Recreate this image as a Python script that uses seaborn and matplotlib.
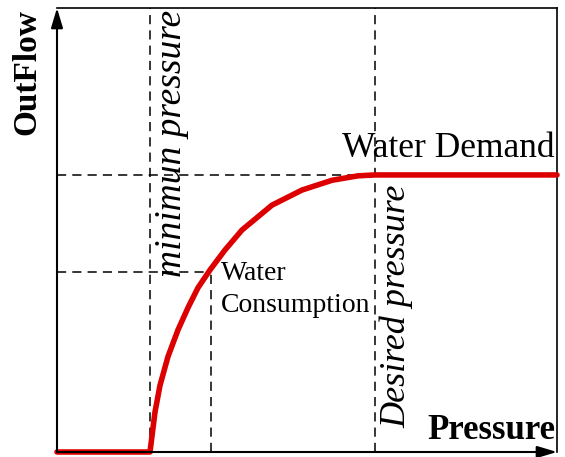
"""Pressure-driven outflow sketch (water demand vs. pressure)."""

import matplotlib
matplotlib.use("Agg")
import matplotlib.pyplot as plt
import pandas as pd
import seaborn as sns

# Curve (pressure, outflow) in 0-100 units
pressure = [0, 18.6, 19.6, 20.6, 22.2, 24.2, 26.2, 28.2, 30.6,
            33.6, 37.0, 43.0, 49.0, 55.0, 60.2, 63.6, 100]
outflow = [0, 0, 9.0, 15.0, 21.5, 27.5, 32.5, 37.0, 41.0,
           45.5, 50.0, 55.6, 59.0, 61.2, 62.2, 62.4, 62.4]

# Reference levels
p_min = 18.6
p_use = 30.8
p_des = 63.6
q_use = 40.5
q_des = 62.4

sns.set_style("white")
plt.rcParams["font.family"] = ["Liberation Serif", "DejaVu Serif"]
plt.rcParams["text.color"] = "black"

df = pd.DataFrame({"Pressure": pressure, "OutFlow": outflow})

fig = plt.figure(figsize=(5.65, 4.57), dpi=100)
ax = fig.add_axes([57 / 565, 5 / 457, 500 / 565, 444 / 457])

dash = dict(color="black", lw=1.1, linestyle=(0, (6, 4)), zorder=1)
ax.plot([p_min, p_min], [0, 100], **dash)
ax.plot([p_des, p_des], [0, 100], **dash)
ax.plot([p_use, p_use], [0, q_use], **dash)
ax.plot([0, p_des], [q_des, q_des], **dash)
ax.plot([0, p_use], [q_use, q_use], **dash)

sns.lineplot(data=df, x="Pressure", y="OutFlow", sort=False, estimator=None,
             color="#dd0000", lw=4, ax=ax, zorder=3, clip_on=False,
             solid_joinstyle="round")

ax.set_xlim(0, 100)
ax.set_ylim(0, 100)
ax.set_xticks([])
ax.set_yticks([])
ax.set_xlabel("")
ax.set_ylabel("")

for side in ["left", "bottom"]:
    ax.spines[side].set_visible(False)
for side in ["top", "right"]:
    ax.spines[side].set_linewidth(1.2)
    ax.spines[side].set_color("black")

arrow = dict(arrowstyle="-|>,head_length=0.6,head_width=0.18",
             color="black", lw=1.5, mutation_scale=20,
             shrinkA=0, shrinkB=0)
ax.annotate("", xy=(0, 1), xytext=(0, 0), xycoords="axes fraction",
            arrowprops=arrow, annotation_clip=False)
ax.annotate("", xy=(1, 0), xytext=(0, 0), xycoords="axes fraction",
            arrowprops=arrow, annotation_clip=False)

# Labels
ax.text(-6, 85.6, "OutFlow", rotation=90, fontsize=24, fontweight="bold",
        ha="center", va="center", clip_on=False)
ax.text(99.6, 2.9, "Pressure", fontsize=25, fontweight="bold",
        ha="right", va="baseline")
ax.text(57, 66.4, "Water Demand", fontsize=25.5, ha="left", va="baseline")
ax.text(32.8, 38.7, "Water", fontsize=20, ha="left", va="baseline")
ax.text(32.8, 31.5, "Consumption", fontsize=20, ha="left", va="baseline")
ax.text(23, 69.6, "minimun pressure", rotation=90, fontsize=27,
        style="italic", ha="center", va="center")
ax.text(68, 32.9, "Desired pressure", rotation=90, fontsize=26,
        style="italic", ha="center", va="center")

fig.savefig("out.png", dpi=100)
